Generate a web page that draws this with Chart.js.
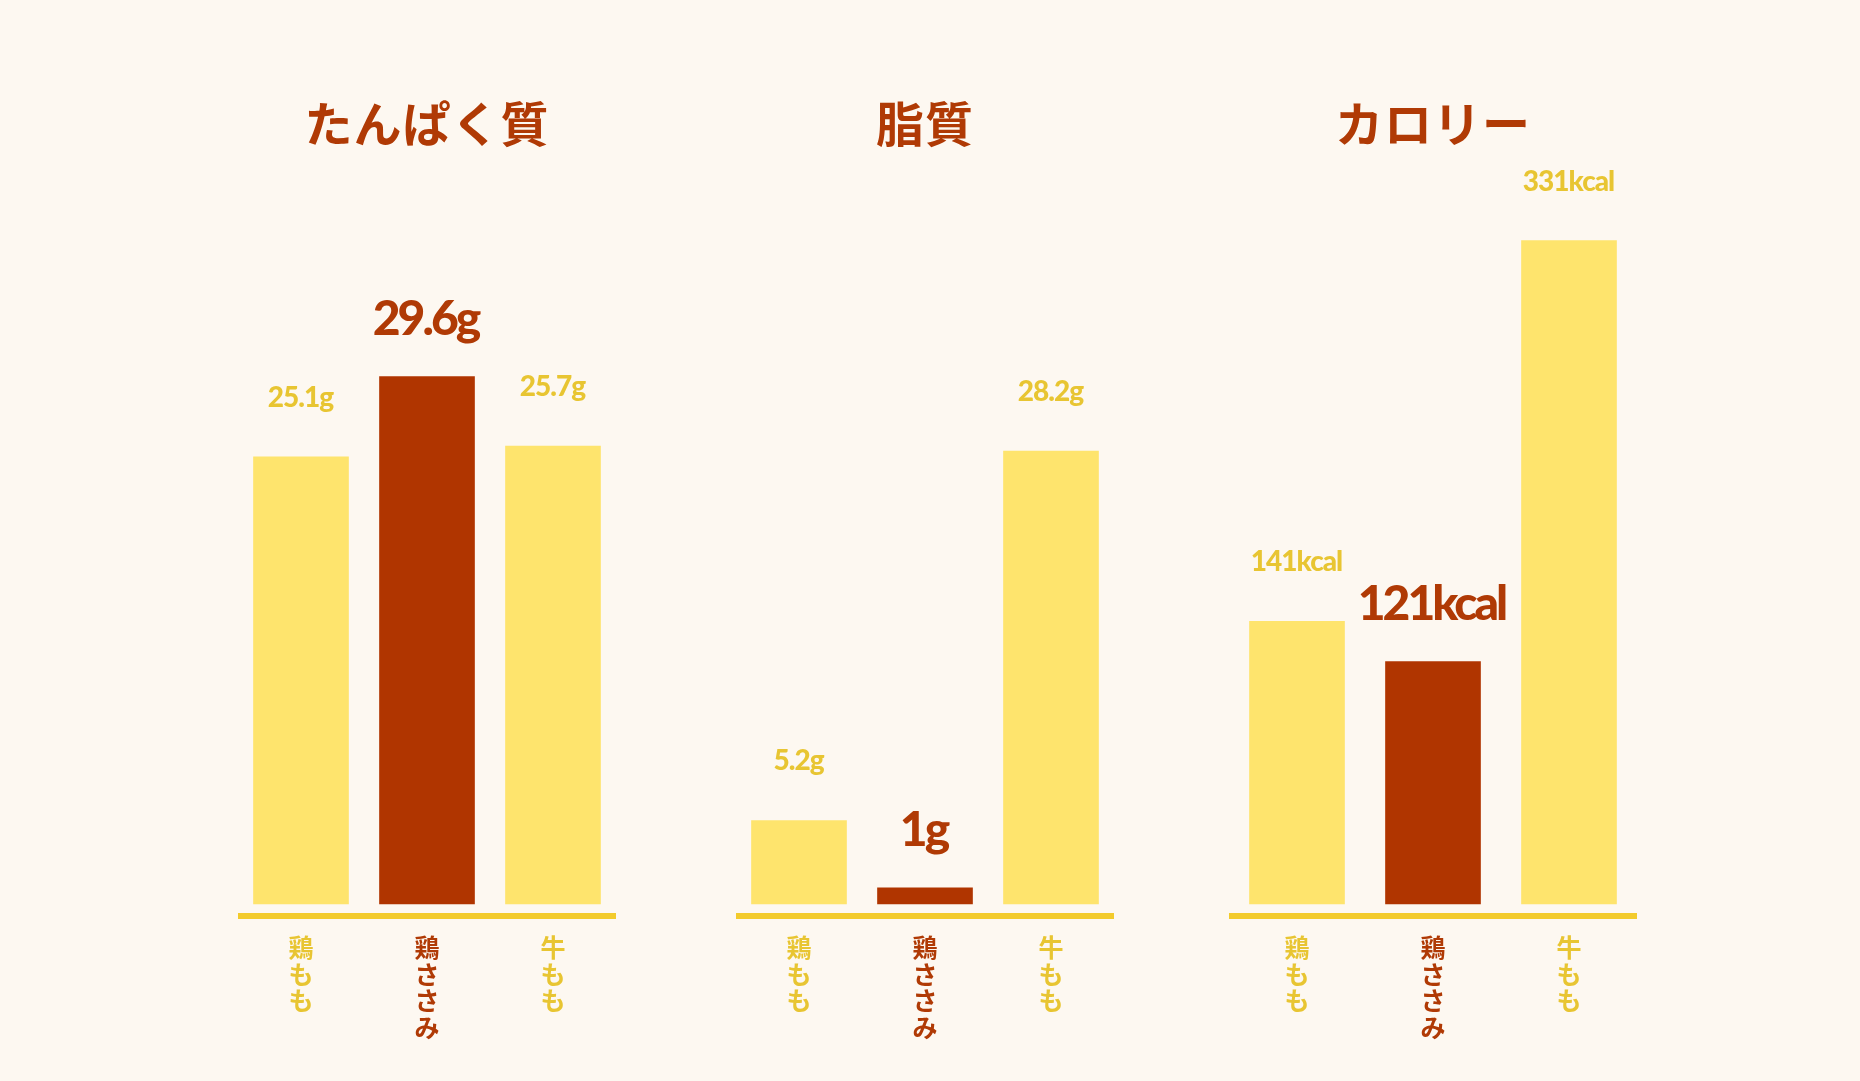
<!DOCTYPE html>
<html><head><meta charset="utf-8">
<script src="https://cdn.jsdelivr.net/npm/chart.js@4.4.1/dist/chart.umd.min.js"></script>
<style>
html,body{margin:0;padding:0;background:#FDF8F1;width:1860px;height:1081px;overflow:hidden;}
.panel{position:absolute;top:0;height:1081px;}
.panel canvas{position:absolute;left:0;top:0;}
.title{position:absolute;left:-150px;right:-150px;top:95px;text-align:center;font-family:"Noto Sans CJK JP";font-weight:700;font-size:48px;line-height:52px;color:#B03A05;letter-spacing:1px;}
</style></head><body>
<div class="panel" id="p0" style="left:238px;width:378px"><canvas id="c0" width="378" height="1081"></canvas><div class="title" id="t0"></div></div>
<div class="panel" id="p1" style="left:736px;width:378px"><canvas id="c1" width="378" height="1081"></canvas><div class="title" id="t1"></div></div>
<div class="panel" id="p2" style="left:1229px;width:408px"><canvas id="c2" width="408" height="1081"></canvas><div class="title" id="t2"></div></div>
<script>
// ---- data ----
const categories = ['鶏もも', '鶏ささみ', '牛もも'];
const proteinValues = [25.1, 29.6, 25.7];
const fatValues = [5.2, 1, 28.2];
const calorieValues = [141, 121, 331];
const titles = ['たんぱく質', '脂質', 'カロリー'];
const units = ['g', 'g', 'kcal'];
const highlightIndex = 1;

// ---- style ----
const BAR_YELLOW = '#FEE46D';
const BAR_RED = '#B03500';
const TEXT_YELLOW = '#E8C532';
const TEXT_RED = '#B03A05';
const AXIS_GOLD = '#F3CB2C';

const panels = [
  {values: proteinValues, unit: units[0], title: titles[0], min: -0.673, max: 50.73},
  {values: fatValues, unit: units[1], title: titles[1], min: -0.747, max: 56.29},
  {values: calorieValues, unit: units[2], title: titles[2], min: -5.99, max: 451.1}
];

const valueLabelPlugin = {
  id: 'valueLabels',
  afterDatasetsDraw(chart, args, opts) {
    const ctx = chart.ctx;
    const meta = chart.getDatasetMeta(0);
    const data = chart.data.datasets[0].data;
    meta.data.forEach((bar, i) => {
      const hi = i === highlightIndex;
      const ls = hi ? 3 : 1;
      ctx.save();
      ctx.font = hi ? '900 48px Lato' : '900 28px Lato';
      ctx.fillStyle = hi ? TEXT_RED : TEXT_YELLOW;
      ctx.textAlign = 'center';
      ctx.textBaseline = 'alphabetic';
      ctx.letterSpacing = (-ls) + 'px';
      ctx.fillText(String(data[i]) + opts.unit, bar.x - ls / 2, bar.y - (hi ? 42 : 50));
      ctx.restore();
    });
  }
};

panels.forEach((p, k) => {
  document.getElementById('t' + k).textContent = p.title;
  new Chart(document.getElementById('c' + k), {
    type: 'bar',
    data: {
      labels: categories.map(c => Array.from(c)),
      datasets: [{
        data: p.values,
        backgroundColor: p.values.map((v, i) => i === highlightIndex ? BAR_RED : BAR_YELLOW),
        borderWidth: 0,
        barThickness: 95
      }]
    },
    options: {
      responsive: false,
      animation: false,
      layout: {padding: 0},
      plugins: {
        legend: {display: false},
        tooltip: {enabled: false},
        valueLabels: {unit: p.unit}
      },
      scales: {
        x: {
          grid: {display: false, drawTicks: false},
          border: {display: true, color: AXIS_GOLD, width: 6},
          ticks: {
            autoSkip: false,
            maxRotation: 0,
            padding: 18,
            font: {family: '"Noto Sans CJK JP"', size: 25, weight: 700, lineHeight: 1.07},
            color: (c) => c.index === highlightIndex ? TEXT_RED : TEXT_YELLOW
          },
          afterFit(scale) { scale.height = 165; }
        },
        y: {display: false, min: p.min, max: p.max}
      }
    },
    plugins: [valueLabelPlugin]
  });
});
</script>
</body></html>
